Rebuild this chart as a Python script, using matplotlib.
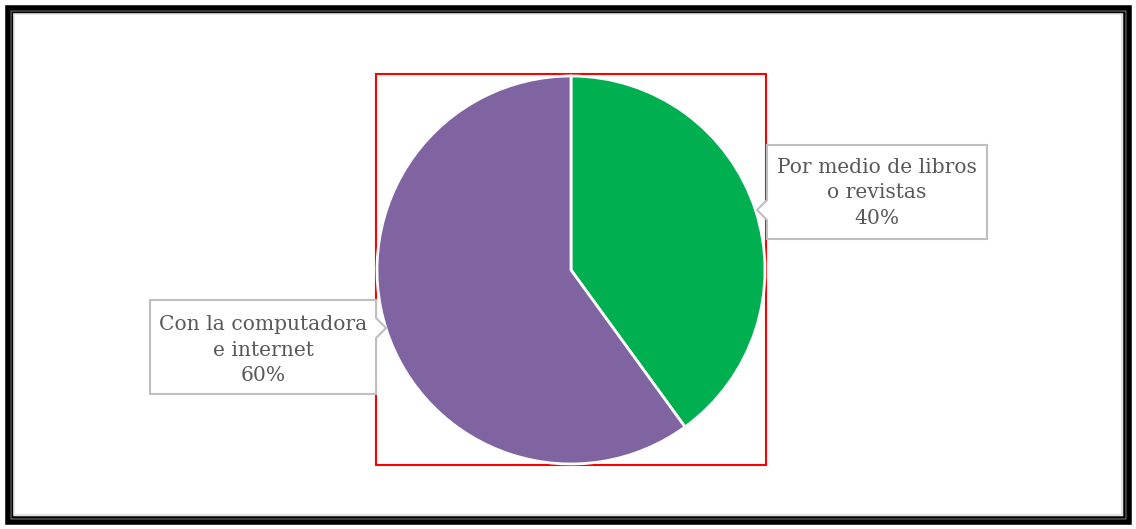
import matplotlib.pyplot as plt
from matplotlib.patches import Rectangle, Polygon

W, H = 1136, 529

labels = ["Por medio de libros\no revistas", "Con la computadora\ne internet"]
values = [40, 60]
colors = ["#00B050", "#8064A2"]


def Y(y):
    # picture rows -> data y
    return H - y


fig = plt.figure(figsize=(W / 100, H / 100), dpi=100)
ax = fig.add_axes([0, 0, 1, 1])

# double frame
ax.add_patch(Rectangle((7.5, Y(521.5)), W - 15, 514, fill=False, lw=4, ec="black"))
ax.add_patch(Rectangle((11.8, Y(517.2)), W - 23.6, 505.4, fill=False, lw=1.8, ec="black"))
ax.add_patch(Rectangle((14, Y(515)), W - 28, 501, fill=False, lw=1.2, ec="#dddddd"))

# red plot area
ax.add_patch(Rectangle((375.5, Y(465)), 390, 391, fill=False, lw=1.5, ec="#ff0000"))

cx, cy, r = 571, Y(270), 194
ax.pie(values, colors=colors, startangle=90, counterclock=False,
       center=(cx, cy), radius=r, frame=True,
       wedgeprops=dict(edgecolor="white", linewidth=2))
ax.set_xlim(0, W)
ax.set_ylim(0, H)
ax.set_aspect("equal")
ax.axis("off")

# callout boxes
right_box = [(767, 145), (987, 145), (987, 239), (767, 239), (767, 220),
             (757, 210), (767, 200)]
left_box = [(150, 300), (376, 300), (376, 318), (386, 328), (376, 338),
            (376, 394), (150, 394)]
for pts in (right_box, left_box):
    ax.add_patch(Polygon([(x, Y(y)) for x, y in pts], closed=True,
                         fc="white", ec="#bfbfbf", lw=1.5))

txt = dict(ha="center", va="center", color="#595959", family="DejaVu Serif",
           fontsize=14.6, linespacing=1.42)
ax.text(877, Y(193), labels[0] + "\n" + str(values[0]) + "%", **txt)
ax.text(263, Y(350), labels[1] + "\n" + str(values[1]) + "%", **txt)

fig.savefig("out.png", dpi=100)
